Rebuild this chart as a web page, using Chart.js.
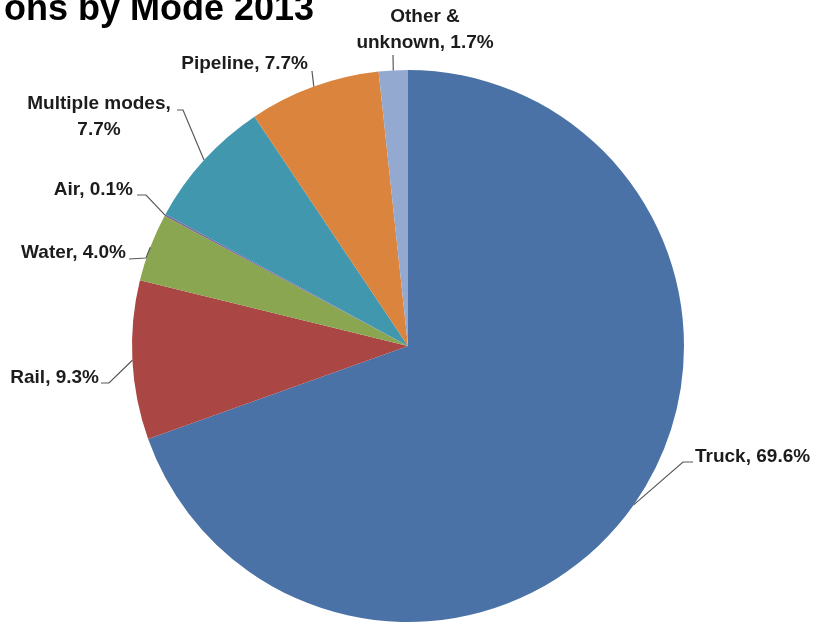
<!DOCTYPE html>
<html>
<head>
<meta charset="utf-8">
<script src="https://cdn.jsdelivr.net/npm/chart.js@4/dist/chart.umd.min.js"></script>
<style>
  html, body { margin: 0; padding: 0; background: #fff; }
  #wrap { width: 813px; height: 623px; }
</style>
</head>
<body>
<div id="wrap"><canvas id="modeChart" width="813" height="623"></canvas></div>
<script>
// data
const modes = ['Truck', 'Rail', 'Water', 'Air', 'Multiple modes', 'Pipeline', 'Other & unknown'];
const shares = [69.6, 9.3, 4.0, 0.1, 7.7, 7.7, 1.7];
const sliceColors = ['#4A72A6', '#AA4644', '#8AA650', '#7D5F9C', '#4097AE', '#DA843E', '#93A9D0'];

// where each label sits (text lines, anchor, alignment, leader bend points)
const labelLayout = [
    { lines: ['Truck, 69.6%'], x: 695, y: 457, align: 'left', bend: [[683, 462], [693, 462]] },
    { lines: ['Rail, 9.3%'], x: 99, y: 378, align: 'right', bend: [[109, 383], [101, 383]] },
    { lines: ['Water, 4.0%'], x: 126, y: 253, align: 'right', bend: [[146, 258], [129, 259]] },
    { lines: ['Air, 0.1%'], x: 133, y: 190, align: 'right', bend: [[146, 195], [137, 195]] },
    { lines: ['Multiple modes,', '7.7%'], x: 99, y: 104, align: 'center', bend: [[183, 110], [177, 110]] },
    { lines: ['Pipeline, 7.7%'], x: 308, y: 64, align: 'right', bend: [[312, 71]] },
    { lines: ['Other &', 'unknown, 1.7%'], x: 425, y: 17, align: 'center', bend: [[393, 55]] }
];

const pieLabels = {
    id: 'pieLabels',
    afterDraw(chart) {
        const ctx = chart.ctx;
        const meta = chart.getDatasetMeta(0);
        ctx.save();

        // title, cut off at the left edge like the source
        ctx.fillStyle = '#000';
        ctx.font = 'bold 36px "Liberation Sans", Arial, sans-serif';
        ctx.textAlign = 'left';
        ctx.textBaseline = 'alphabetic';
        ctx.fillText('ons by Mode 2013', 4, 20);

        meta.data.forEach((arc, i) => {
            const p = arc.getProps(['x', 'y', 'startAngle', 'endAngle', 'outerRadius'], true);
            const mid = (p.startAngle + p.endAngle) / 2;
            const sx = p.x + Math.cos(mid) * p.outerRadius;
            const sy = p.y + Math.sin(mid) * p.outerRadius;
            const lay = labelLayout[i];

            // leader line
            ctx.strokeStyle = '#595959';
            ctx.lineWidth = 1.2;
            ctx.beginPath();
            ctx.moveTo(sx, sy);
            lay.bend.forEach(pt => ctx.lineTo(pt[0], pt[1]));
            ctx.stroke();

            // text
            ctx.fillStyle = '#1c1c1c';
            ctx.font = 'bold 19px "Liberation Sans", Arial, sans-serif';
            ctx.textAlign = lay.align;
            ctx.textBaseline = 'middle';
            lay.lines.forEach((t, k) => ctx.fillText(t, lay.x, lay.y + k * 26));
        });
        ctx.restore();
    }
};

new Chart(document.getElementById('modeChart').getContext('2d'), {
    type: 'pie',
    data: {
        labels: modes,
        datasets: [{
            data: shares,
            backgroundColor: sliceColors,
            borderWidth: 0
        }]
    },
    options: {
        responsive: false,
        animation: false,
        layout: {
            padding: { left: 132, right: 129, top: 70, bottom: 1 }
        },
        plugins: {
            legend: { display: false },
            tooltip: { enabled: false }
        }
    },
    plugins: [pieLabels]
});
</script>
</body>
</html>
